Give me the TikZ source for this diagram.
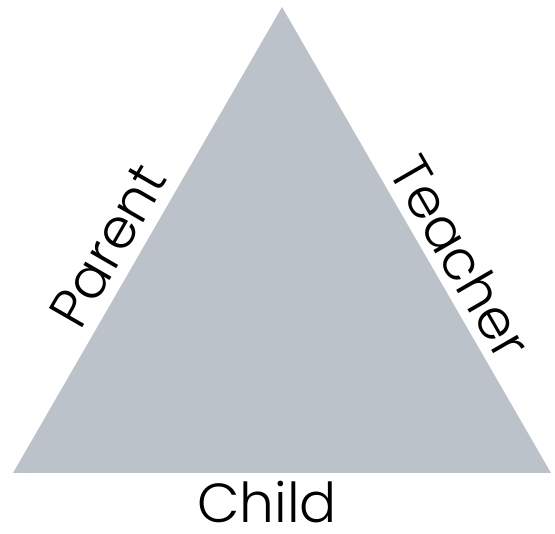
\documentclass[tikz,border=0pt]{standalone}
\usepackage{fontspec}
\setmainfont{Poppins}[UprightFont=* Light]
\usepackage{xcolor}
\definecolor{trigray}{HTML}{BCC2C9}

\begin{document}
\begin{tikzpicture}[x=1pt, y=-1pt, every node/.style={font=\fontsize{55}{60}\selectfont, inner sep=0pt}]
    \useasboundingbox (0,0) rectangle (555,534);

    % corners of the triangle
    \coordinate (apex) at (282,7);
    \coordinate (left) at (13,473);
    \coordinate (right) at (551,473);

    % the triangle
    \fill[trigray] (apex) -- (right) -- (left) -- cycle;

    % side labels
    \node[rotate=60] (parent) at (108,246) {Parent};
    \node[rotate=-60] (teacher) at (461,257) {Teacher};
    \node[anchor=base] (child) at (267,523) {Child};

\end{tikzpicture}
\end{document}
